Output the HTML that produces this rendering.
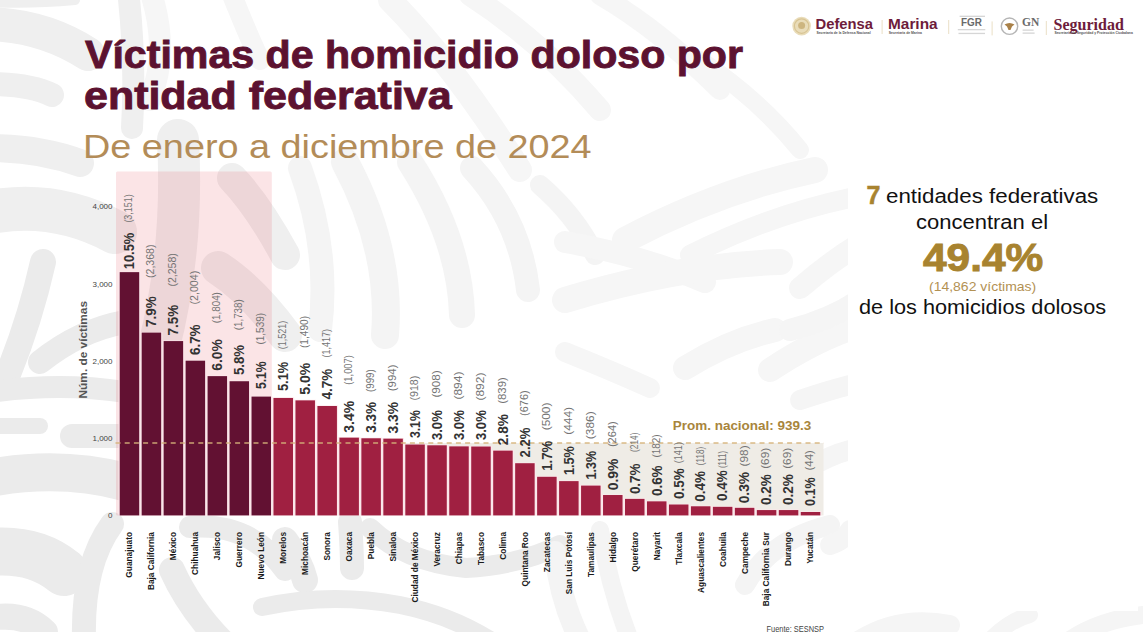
<!DOCTYPE html>
<html><head><meta charset="utf-8">
<style>
*{margin:0;padding:0;box-sizing:border-box}
html,body{width:1143px;height:632px;overflow:hidden;background:#fff}
body{position:relative;font-family:"Liberation Sans",sans-serif}
.abs{position:absolute;white-space:nowrap;line-height:1;transform-origin:0 0}
svg{position:absolute;left:0;top:0}
.pc{font:bold 15px "Liberation Sans",sans-serif;fill:#333}
.pa{font:10.5px "Liberation Sans",sans-serif;fill:#747474}
.xl{font:bold 8.3px "Liberation Sans",sans-serif;fill:#1a1a1a}
.yt{font:8px "Liberation Sans",sans-serif;fill:#444}
.yl{font:bold 11.5px "Liberation Sans",sans-serif;fill:#555}
.prom{font:bold 13px "Liberation Sans",sans-serif;fill:#a8853c}
.src{font:9px "Liberation Sans",sans-serif;fill:#444}
#t1,#t2{-webkit-text-stroke:0.9px #5c1230}
#r3{-webkit-text-stroke:0.9px #a8832f}
#r0{-webkit-text-stroke:0.5px #a8832f}
#t1{top:32px}
#t2{top:72px}
#sub{color:#b08d57;font-size:29px;left:85px;top:128px}
.rt{color:#111;font-size:19px}
.lg{font-family:'Liberation Serif',serif;font-weight:bold}
.lgs{font-size:3.4px;color:#555;font-weight:bold}
</style></head><body>
<svg id="bg" width="1143" height="632" viewBox="0 0 1143 632">
<g fill="none" stroke="#ebebeb" stroke-linecap="round">
 <!-- left margin top -->
 </g><g fill="none" stroke="#efefef" stroke-linecap="round">
 <path d="M-10 2 Q30 4 75 0" stroke-width="10"/>
 <path d="M-10 24 Q45 26 88 54" stroke-width="34"/>
 <path d="M-10 84 Q30 84 52 95" stroke-width="24"/>
 <path d="M128 -10 Q136 60 132 128" stroke-width="22"/>
 <path d="M-10 148 Q40 148 80 163" stroke-width="28"/>
 <path d="M-10 212 Q55 200 115 232" stroke-width="44"/>
 <path d="M178 140 Q184 250 158 350" stroke-width="42"/>
 <path d="M232 178 Q258 205 285 255" stroke-width="30"/>
 <path d="M218 268 Q252 290 285 335" stroke-width="34"/>
 </g><g fill="none" stroke="#ebebeb" stroke-linecap="round">
 <path d="M43 262 Q30 320 8 374" stroke-width="26"/>
 <path d="M40 362 Q80 330 125 322" stroke-width="24"/>
 <path d="M-10 392 Q60 382 125 392" stroke-width="22"/>
 <path d="M-10 426 L40 426" stroke-width="16"/>
 <path d="M72 436 L125 436" stroke-width="24"/>
 <path d="M-10 478 Q60 465 125 482" stroke-width="38"/>
 <!-- bottom left -->
 <path d="M-10 552 Q35 548 64 572" stroke-width="48"/>
 <path d="M-10 618 Q25 612 45 632" stroke-width="26"/>
 <path d="M112 524 Q82 565 84 640" stroke-width="24"/>
 <path d="M172 570 Q190 610 225 645" stroke-width="26"/>
 <path d="M190 527 Q250 522 285 570" stroke-width="22"/>
 <path d="M285 540 Q300 560 305 580" stroke-width="26"/>
 <path d="M350 522 Q352 550 352 568" stroke-width="24"/>
 <path d="M370 528 Q405 562 466 568 Q520 565 560 545" stroke-width="20"/>
 <path d="M262 607 Q330 592 400 605 Q450 615 490 640" stroke-width="18"/>
</g>
<g fill="none" stroke="#f4f4f4" stroke-linecap="round">
 <path d="M555 552 Q560 600 580 640" stroke-width="22"/>
 <path d="M600 530 Q610 590 630 640" stroke-width="18"/>
 <path d="M745 585 Q770 540 830 525" stroke-width="20"/>
 <!-- upper/middle faint bands -->
 <path d="M300 168 Q330 250 320 330" stroke-width="24"/>
 <path d="M345 162 Q392 250 385 335" stroke-width="28"/>
 <path d="M410 162 Q460 240 462 315" stroke-width="26"/>
 <path d="M472 168 Q520 220 528 290" stroke-width="24"/>
 <path d="M540 185 Q575 215 595 255" stroke-width="20"/>
 </g><g fill="none" stroke="#f6f6f6" stroke-linecap="round">
 <path d="M625 240 Q720 190 815 170" stroke-width="26"/>
 <path d="M565 242 Q640 255 705 282" stroke-width="22"/>
 <path d="M690 255 Q770 215 850 198" stroke-width="20"/>
 <path d="M565 300 Q680 265 780 262" stroke-width="26"/>
 <path d="M685 368 Q730 340 775 330" stroke-width="24"/>
 <path d="M800 288 Q830 262 858 245" stroke-width="22"/>
 <path d="M565 352 Q610 370 650 388" stroke-width="20"/>
 <path d="M770 370 Q815 340 858 326" stroke-width="24"/>
 <path d="M150 -10 Q170 50 150 100" stroke-width="22"/>
 <path d="M230 -10 Q250 40 260 60" stroke-width="20"/>
 <path d="M390 0 Q450 60 520 170" stroke-width="24"/>
 <path d="M470 -5 Q540 40 600 110" stroke-width="22"/>
 <path d="M600 -5 Q660 30 720 90" stroke-width="20"/>
 <path d="M700 60 Q760 100 800 150" stroke-width="18"/>
</g>
<g fill="none" stroke="#f5f5f5" stroke-linecap="round">
 <path d="M790 330 Q830 320 860 300" stroke-width="22"/>
 <path d="M800 400 Q830 390 850 385" stroke-width="20"/>
 <path d="M805 470 Q830 455 850 450" stroke-width="20"/>
 <path d="M830 545 Q845 540 850 530" stroke-width="20"/>
 <path d="M860 640 Q900 615 950 625" stroke-width="20"/>
 <path d="M990 640 Q1010 620 1030 615" stroke-width="16"/>
 <path d="M1070 640 Q1100 620 1143 615" stroke-width="18"/>
</g>
<rect x="848" y="60" width="290" height="551" fill="#fff"/>

</svg>
<svg width="1143" height="632" viewBox="0 0 1143 632">
<rect x="116" y="171.6" width="155.8" height="343.8" rx="1.5" fill="rgb(228,75,88)" fill-opacity="0.15"/>
<rect x="272" y="443" width="551.5" height="72.4" fill="#efece6"/>
<rect x="118.50" y="271.54" width="21.9" height="243.86" fill="#fce7eb"/>
<rect x="119.70" y="272.14" width="19.5" height="243.26" fill="#621132"/>
<rect x="140.47" y="331.99" width="21.9" height="183.41" fill="#fce7eb"/>
<rect x="141.67" y="332.59" width="19.5" height="182.81" fill="#621132"/>
<rect x="162.44" y="340.48" width="21.9" height="174.92" fill="#fce7eb"/>
<rect x="163.64" y="341.08" width="19.5" height="174.32" fill="#621132"/>
<rect x="184.41" y="360.09" width="21.9" height="155.31" fill="#fce7eb"/>
<rect x="185.61" y="360.69" width="19.5" height="154.71" fill="#621132"/>
<rect x="206.38" y="375.53" width="21.9" height="139.87" fill="#fce7eb"/>
<rect x="207.58" y="376.13" width="19.5" height="139.27" fill="#621132"/>
<rect x="228.35" y="380.63" width="21.9" height="134.77" fill="#fce7eb"/>
<rect x="229.55" y="381.23" width="19.5" height="134.17" fill="#621132"/>
<rect x="250.32" y="395.99" width="21.9" height="119.41" fill="#fce7eb"/>
<rect x="251.52" y="396.59" width="19.5" height="118.81" fill="#621132"/>
<rect x="272.29" y="397.38" width="21.9" height="118.02" fill="#fce7eb"/>
<rect x="273.49" y="397.98" width="19.5" height="117.42" fill="#a02041"/>
<rect x="294.26" y="399.77" width="21.9" height="115.63" fill="#fce7eb"/>
<rect x="295.46" y="400.37" width="19.5" height="115.03" fill="#a02041"/>
<rect x="316.23" y="405.41" width="21.9" height="109.99" fill="#fce7eb"/>
<rect x="317.43" y="406.01" width="19.5" height="109.39" fill="#a02041"/>
<rect x="338.20" y="437.06" width="21.9" height="78.34" fill="#fce7eb"/>
<rect x="339.40" y="437.66" width="19.5" height="77.74" fill="#a02041"/>
<rect x="360.17" y="437.68" width="21.9" height="77.72" fill="#fce7eb"/>
<rect x="361.37" y="438.28" width="19.5" height="77.12" fill="#a02041"/>
<rect x="382.14" y="438.06" width="21.9" height="77.34" fill="#fce7eb"/>
<rect x="383.34" y="438.66" width="19.5" height="76.74" fill="#a02041"/>
<rect x="404.11" y="443.93" width="21.9" height="71.47" fill="#fce7eb"/>
<rect x="405.31" y="444.53" width="19.5" height="70.87" fill="#a02041"/>
<rect x="426.08" y="444.70" width="21.9" height="70.70" fill="#fce7eb"/>
<rect x="427.28" y="445.30" width="19.5" height="70.10" fill="#a02041"/>
<rect x="448.05" y="445.78" width="21.9" height="69.62" fill="#fce7eb"/>
<rect x="449.25" y="446.38" width="19.5" height="69.02" fill="#a02041"/>
<rect x="470.02" y="445.94" width="21.9" height="69.46" fill="#fce7eb"/>
<rect x="471.22" y="446.54" width="19.5" height="68.86" fill="#a02041"/>
<rect x="491.99" y="450.03" width="21.9" height="65.37" fill="#fce7eb"/>
<rect x="493.19" y="450.63" width="19.5" height="64.77" fill="#a02041"/>
<rect x="513.96" y="462.61" width="21.9" height="52.79" fill="#fce7eb"/>
<rect x="515.16" y="463.21" width="19.5" height="52.19" fill="#a02041"/>
<rect x="535.93" y="476.20" width="21.9" height="39.20" fill="#fce7eb"/>
<rect x="537.13" y="476.80" width="19.5" height="38.60" fill="#a02041"/>
<rect x="557.90" y="480.52" width="21.9" height="34.88" fill="#fce7eb"/>
<rect x="559.10" y="481.12" width="19.5" height="34.28" fill="#a02041"/>
<rect x="579.87" y="485.00" width="21.9" height="30.40" fill="#fce7eb"/>
<rect x="581.07" y="485.60" width="19.5" height="29.80" fill="#a02041"/>
<rect x="601.84" y="494.42" width="21.9" height="20.98" fill="#fce7eb"/>
<rect x="603.04" y="495.02" width="19.5" height="20.38" fill="#a02041"/>
<rect x="623.81" y="498.28" width="21.9" height="17.12" fill="#fce7eb"/>
<rect x="625.01" y="498.88" width="19.5" height="16.52" fill="#a02041"/>
<rect x="645.78" y="500.75" width="21.9" height="14.65" fill="#fce7eb"/>
<rect x="646.98" y="501.35" width="19.5" height="14.05" fill="#a02041"/>
<rect x="667.75" y="503.91" width="21.9" height="11.49" fill="#fce7eb"/>
<rect x="668.95" y="504.51" width="19.5" height="10.89" fill="#a02041"/>
<rect x="689.72" y="505.69" width="21.9" height="9.71" fill="#fce7eb"/>
<rect x="690.92" y="506.29" width="19.5" height="9.11" fill="#a02041"/>
<rect x="711.69" y="506.23" width="21.9" height="9.17" fill="#fce7eb"/>
<rect x="712.89" y="506.83" width="19.5" height="8.57" fill="#a02041"/>
<rect x="733.66" y="507.23" width="21.9" height="8.17" fill="#fce7eb"/>
<rect x="734.86" y="507.83" width="19.5" height="7.57" fill="#a02041"/>
<rect x="755.63" y="509.47" width="21.9" height="5.93" fill="#fce7eb"/>
<rect x="756.83" y="510.07" width="19.5" height="5.33" fill="#a02041"/>
<rect x="777.60" y="509.47" width="21.9" height="5.93" fill="#fce7eb"/>
<rect x="778.80" y="510.07" width="19.5" height="5.33" fill="#a02041"/>
<rect x="799.57" y="511.40" width="21.9" height="4.00" fill="#fce7eb"/>
<rect x="800.77" y="512.00" width="19.5" height="3.40" fill="#a02041"/>
<line x1="115.5" y1="443" x2="824" y2="443" stroke="#d6b37a" stroke-opacity="0.9" stroke-width="1.5" stroke-dasharray="5 4.2"/>
<text transform="translate(134.25,251.00) rotate(-90)" text-anchor="middle" class="pc" textLength="36.6" lengthAdjust="spacingAndGlyphs">10.5%</text>
<text transform="translate(132.35,208.50) rotate(-90)" text-anchor="middle" class="pa" textLength="28.2" lengthAdjust="spacingAndGlyphs">(3,151)</text>
<text transform="translate(132.35,532) rotate(-90)" text-anchor="end" class="xl">Guanajuato</text>
<text transform="translate(156.22,311.60) rotate(-90)" text-anchor="middle" class="pc" textLength="30.6" lengthAdjust="spacingAndGlyphs">7.9%</text>
<text transform="translate(154.32,261.30) rotate(-90)" text-anchor="middle" class="pa" textLength="33.4" lengthAdjust="spacingAndGlyphs">(2,368)</text>
<text transform="translate(154.32,532) rotate(-90)" text-anchor="end" class="xl">Baja California</text>
<text transform="translate(178.19,320.15) rotate(-90)" text-anchor="middle" class="pc" textLength="30.7" lengthAdjust="spacingAndGlyphs">7.5%</text>
<text transform="translate(176.29,269.85) rotate(-90)" text-anchor="middle" class="pa" textLength="33.5" lengthAdjust="spacingAndGlyphs">(2,258)</text>
<text transform="translate(176.29,532) rotate(-90)" text-anchor="end" class="xl">México</text>
<text transform="translate(200.16,339.75) rotate(-90)" text-anchor="middle" class="pc" textLength="30.7" lengthAdjust="spacingAndGlyphs">6.7%</text>
<text transform="translate(198.26,287.65) rotate(-90)" text-anchor="middle" class="pa" textLength="33.9" lengthAdjust="spacingAndGlyphs">(2,004)</text>
<text transform="translate(198.26,532) rotate(-90)" text-anchor="end" class="xl">Chihuahua</text>
<text transform="translate(222.13,354.95) rotate(-90)" text-anchor="middle" class="pc" textLength="31.5" lengthAdjust="spacingAndGlyphs">6.0%</text>
<text transform="translate(220.23,307.65) rotate(-90)" text-anchor="middle" class="pa" textLength="31.1" lengthAdjust="spacingAndGlyphs">(1,804)</text>
<text transform="translate(220.23,532) rotate(-90)" text-anchor="end" class="xl">Jalisco</text>
<text transform="translate(244.10,360.00) rotate(-90)" text-anchor="middle" class="pc" textLength="30.2" lengthAdjust="spacingAndGlyphs">5.8%</text>
<text transform="translate(242.20,314.75) rotate(-90)" text-anchor="middle" class="pa" textLength="31.1" lengthAdjust="spacingAndGlyphs">(1,738)</text>
<text transform="translate(242.20,532) rotate(-90)" text-anchor="end" class="xl">Guerrero</text>
<text transform="translate(266.07,375.25) rotate(-90)" text-anchor="middle" class="pc" textLength="27.7" lengthAdjust="spacingAndGlyphs">5.1%</text>
<text transform="translate(264.17,328.75) rotate(-90)" text-anchor="middle" class="pa" textLength="31.7" lengthAdjust="spacingAndGlyphs">(1,539)</text>
<text transform="translate(264.17,532) rotate(-90)" text-anchor="end" class="xl">Nuevo León</text>
<text transform="translate(288.04,376.40) rotate(-90)" text-anchor="middle" class="pc" textLength="29.4" lengthAdjust="spacingAndGlyphs">5.1%</text>
<text transform="translate(286.14,334.95) rotate(-90)" text-anchor="middle" class="pa" textLength="28.5" lengthAdjust="spacingAndGlyphs">(1,521)</text>
<text transform="translate(286.14,532) rotate(-90)" text-anchor="end" class="xl">Morelos</text>
<text transform="translate(310.01,378.85) rotate(-90)" text-anchor="middle" class="pc" textLength="31.9" lengthAdjust="spacingAndGlyphs">5.0%</text>
<text transform="translate(308.11,332.00) rotate(-90)" text-anchor="middle" class="pa" textLength="32.0" lengthAdjust="spacingAndGlyphs">(1,490)</text>
<text transform="translate(308.11,532) rotate(-90)" text-anchor="end" class="xl">Michoacán</text>
<text transform="translate(331.98,384.20) rotate(-90)" text-anchor="middle" class="pc" textLength="30.6" lengthAdjust="spacingAndGlyphs">4.7%</text>
<text transform="translate(330.08,343.30) rotate(-90)" text-anchor="middle" class="pa" textLength="28.6" lengthAdjust="spacingAndGlyphs">(1,417)</text>
<text transform="translate(330.08,532) rotate(-90)" text-anchor="end" class="xl">Sonora</text>
<text transform="translate(353.95,416.80) rotate(-90)" text-anchor="middle" class="pc" textLength="31.8" lengthAdjust="spacingAndGlyphs">3.4%</text>
<text transform="translate(352.05,369.95) rotate(-90)" text-anchor="middle" class="pa" textLength="29.7" lengthAdjust="spacingAndGlyphs">(1,007)</text>
<text transform="translate(352.05,532) rotate(-90)" text-anchor="end" class="xl">Oaxaca</text>
<text transform="translate(375.92,417.30) rotate(-90)" text-anchor="middle" class="pc" textLength="30.8" lengthAdjust="spacingAndGlyphs">3.3%</text>
<text transform="translate(374.02,380.65) rotate(-90)" text-anchor="middle" class="pa" textLength="22.5" lengthAdjust="spacingAndGlyphs">(999)</text>
<text transform="translate(374.02,532) rotate(-90)" text-anchor="end" class="xl">Puebla</text>
<text transform="translate(397.89,417.65) rotate(-90)" text-anchor="middle" class="pc" textLength="31.5" lengthAdjust="spacingAndGlyphs">3.3%</text>
<text transform="translate(395.99,377.85) rotate(-90)" text-anchor="middle" class="pa" textLength="26.9" lengthAdjust="spacingAndGlyphs">(994)</text>
<text transform="translate(395.99,532) rotate(-90)" text-anchor="end" class="xl">Sinaloa</text>
<text transform="translate(419.86,424.15) rotate(-90)" text-anchor="middle" class="pc" textLength="27.9" lengthAdjust="spacingAndGlyphs">3.1%</text>
<text transform="translate(417.96,388.15) rotate(-90)" text-anchor="middle" class="pa" textLength="24.9" lengthAdjust="spacingAndGlyphs">(918)</text>
<text transform="translate(417.96,532) rotate(-90)" text-anchor="end" class="xl">Ciudad de México</text>
<text transform="translate(441.83,425.15) rotate(-90)" text-anchor="middle" class="pc" textLength="29.9" lengthAdjust="spacingAndGlyphs">3.0%</text>
<text transform="translate(439.93,384.00) rotate(-90)" text-anchor="middle" class="pa" textLength="27.2" lengthAdjust="spacingAndGlyphs">(908)</text>
<text transform="translate(439.93,532) rotate(-90)" text-anchor="end" class="xl">Veracruz</text>
<text transform="translate(463.80,425.15) rotate(-90)" text-anchor="middle" class="pc" textLength="29.9" lengthAdjust="spacingAndGlyphs">3.0%</text>
<text transform="translate(461.90,385.60) rotate(-90)" text-anchor="middle" class="pa" textLength="28.0" lengthAdjust="spacingAndGlyphs">(894)</text>
<text transform="translate(461.90,532) rotate(-90)" text-anchor="end" class="xl">Chiapas</text>
<text transform="translate(485.77,425.15) rotate(-90)" text-anchor="middle" class="pc" textLength="29.9" lengthAdjust="spacingAndGlyphs">3.0%</text>
<text transform="translate(483.87,386.60) rotate(-90)" text-anchor="middle" class="pa" textLength="28.0" lengthAdjust="spacingAndGlyphs">(892)</text>
<text transform="translate(483.87,532) rotate(-90)" text-anchor="end" class="xl">Tabasco</text>
<text transform="translate(507.74,429.70) rotate(-90)" text-anchor="middle" class="pc" textLength="31.0" lengthAdjust="spacingAndGlyphs">2.8%</text>
<text transform="translate(505.84,390.45) rotate(-90)" text-anchor="middle" class="pa" textLength="26.7" lengthAdjust="spacingAndGlyphs">(839)</text>
<text transform="translate(505.84,532) rotate(-90)" text-anchor="end" class="xl">Colima</text>
<text transform="translate(529.71,442.45) rotate(-90)" text-anchor="middle" class="pc" textLength="29.9" lengthAdjust="spacingAndGlyphs">2.2%</text>
<text transform="translate(527.81,403.15) rotate(-90)" text-anchor="middle" class="pa" textLength="25.5" lengthAdjust="spacingAndGlyphs">(676)</text>
<text transform="translate(527.81,532) rotate(-90)" text-anchor="end" class="xl">Quintana Roo</text>
<text transform="translate(551.68,455.75) rotate(-90)" text-anchor="middle" class="pc" textLength="29.9" lengthAdjust="spacingAndGlyphs">1.7%</text>
<text transform="translate(549.78,416.45) rotate(-90)" text-anchor="middle" class="pa" textLength="27.7" lengthAdjust="spacingAndGlyphs">(500)</text>
<text transform="translate(549.78,532) rotate(-90)" text-anchor="end" class="xl">Zacatecas</text>
<text transform="translate(573.65,460.70) rotate(-90)" text-anchor="middle" class="pc" textLength="28.8" lengthAdjust="spacingAndGlyphs">1.5%</text>
<text transform="translate(571.75,420.90) rotate(-90)" text-anchor="middle" class="pa" textLength="27.8" lengthAdjust="spacingAndGlyphs">(444)</text>
<text transform="translate(571.75,532) rotate(-90)" text-anchor="end" class="xl">San Luis Potosí</text>
<text transform="translate(595.62,465.15) rotate(-90)" text-anchor="middle" class="pc" textLength="28.7" lengthAdjust="spacingAndGlyphs">1.3%</text>
<text transform="translate(593.72,425.30) rotate(-90)" text-anchor="middle" class="pa" textLength="27.8" lengthAdjust="spacingAndGlyphs">(386)</text>
<text transform="translate(593.72,532) rotate(-90)" text-anchor="end" class="xl">Tamaulipas</text>
<text transform="translate(617.59,474.50) rotate(-90)" text-anchor="middle" class="pc" textLength="31.6" lengthAdjust="spacingAndGlyphs">0.9%</text>
<text transform="translate(615.69,434.15) rotate(-90)" text-anchor="middle" class="pa" textLength="25.9" lengthAdjust="spacingAndGlyphs">(264)</text>
<text transform="translate(615.69,532) rotate(-90)" text-anchor="end" class="xl">Hidalgo</text>
<text transform="translate(639.56,478.80) rotate(-90)" text-anchor="middle" class="pc" textLength="30.6" lengthAdjust="spacingAndGlyphs">0.7%</text>
<text transform="translate(637.66,442.25) rotate(-90)" text-anchor="middle" class="pa" textLength="19.3" lengthAdjust="spacingAndGlyphs">(214)</text>
<text transform="translate(637.66,532) rotate(-90)" text-anchor="end" class="xl">Querétaro</text>
<text transform="translate(661.53,480.75) rotate(-90)" text-anchor="middle" class="pc" textLength="30.7" lengthAdjust="spacingAndGlyphs">0.6%</text>
<text transform="translate(659.63,446.05) rotate(-90)" text-anchor="middle" class="pa" textLength="23.1" lengthAdjust="spacingAndGlyphs">(182)</text>
<text transform="translate(659.63,532) rotate(-90)" text-anchor="end" class="xl">Nayarit</text>
<text transform="translate(683.50,483.55) rotate(-90)" text-anchor="middle" class="pc" textLength="30.7" lengthAdjust="spacingAndGlyphs">0.5%</text>
<text transform="translate(681.60,452.70) rotate(-90)" text-anchor="middle" class="pa" textLength="21.2" lengthAdjust="spacingAndGlyphs">(141)</text>
<text transform="translate(681.60,532) rotate(-90)" text-anchor="end" class="xl">Tlaxcala</text>
<text transform="translate(705.47,486.35) rotate(-90)" text-anchor="middle" class="pc" textLength="30.7" lengthAdjust="spacingAndGlyphs">0.4%</text>
<text transform="translate(703.57,456.05) rotate(-90)" text-anchor="middle" class="pa" textLength="18.3" lengthAdjust="spacingAndGlyphs">(118)</text>
<text transform="translate(703.57,532) rotate(-90)" text-anchor="end" class="xl">Aguascalientes</text>
<text transform="translate(727.44,485.60) rotate(-90)" text-anchor="middle" class="pc" textLength="30.6" lengthAdjust="spacingAndGlyphs">0.4%</text>
<text transform="translate(725.54,459.50) rotate(-90)" text-anchor="middle" class="pa" textLength="17.0" lengthAdjust="spacingAndGlyphs">(111)</text>
<text transform="translate(725.54,532) rotate(-90)" text-anchor="end" class="xl">Coahuila</text>
<text transform="translate(749.41,487.60) rotate(-90)" text-anchor="middle" class="pc" textLength="31.4" lengthAdjust="spacingAndGlyphs">0.3%</text>
<text transform="translate(747.51,455.90) rotate(-90)" text-anchor="middle" class="pa" textLength="21.0" lengthAdjust="spacingAndGlyphs">(98)</text>
<text transform="translate(747.51,532) rotate(-90)" text-anchor="end" class="xl">Campeche</text>
<text transform="translate(771.38,489.55) rotate(-90)" text-anchor="middle" class="pc" textLength="30.7" lengthAdjust="spacingAndGlyphs">0.2%</text>
<text transform="translate(769.48,458.35) rotate(-90)" text-anchor="middle" class="pa" textLength="20.9" lengthAdjust="spacingAndGlyphs">(69)</text>
<text transform="translate(769.48,532) rotate(-90)" text-anchor="end" class="xl">Baja California Sur</text>
<text transform="translate(793.35,489.65) rotate(-90)" text-anchor="middle" class="pc" textLength="30.9" lengthAdjust="spacingAndGlyphs">0.2%</text>
<text transform="translate(791.45,458.35) rotate(-90)" text-anchor="middle" class="pa" textLength="20.9" lengthAdjust="spacingAndGlyphs">(69)</text>
<text transform="translate(791.45,532) rotate(-90)" text-anchor="end" class="xl">Durango</text>
<text transform="translate(815.32,491.60) rotate(-90)" text-anchor="middle" class="pc" textLength="28.6" lengthAdjust="spacingAndGlyphs">0.1%</text>
<text transform="translate(813.42,460.30) rotate(-90)" text-anchor="middle" class="pa" textLength="20.4" lengthAdjust="spacingAndGlyphs">(44)</text>
<text transform="translate(813.42,532) rotate(-90)" text-anchor="end" class="xl">Yucatán</text>
<text x="112.5" y="518.20" text-anchor="end" class="yt">0</text>
<text x="112.5" y="441.00" text-anchor="end" class="yt">1,000</text>
<text x="112.5" y="363.80" text-anchor="end" class="yt">2,000</text>
<text x="112.5" y="286.60" text-anchor="end" class="yt">3,000</text>
<text x="112.5" y="209.40" text-anchor="end" class="yt">4,000</text>
<text transform="translate(86.5,349.7) rotate(-90)" text-anchor="middle" class="yl" textLength="97.5" lengthAdjust="spacingAndGlyphs">Núm. de víctimas</text>
<text x="811.2" y="429.9" text-anchor="end" class="prom" textLength="138.4" lengthAdjust="spacingAndGlyphs">Prom. nacional: 939.3</text>
<text x="824" y="632.3" text-anchor="end" class="src" textLength="57.5" lengthAdjust="spacingAndGlyphs">Fuente: SESNSP</text>
</svg>
<div class="abs" id="t1" style="left:85.3px;top:34.69px;font-size:39px;font-weight:bold;color:#5c1230;transform:scaleX(1.0543);">Víctimas de homicidio doloso por</div>
<div class="abs" id="t2" style="left:84.1px;top:75.59px;font-size:39px;font-weight:bold;color:#5c1230;transform:scaleX(1.1015);">entidad federativa</div>
<div class="abs" id="sub" style="left:82.7px;top:128.92px;font-size:34px;font-weight:normal;color:#b38c58;transform:scaleX(1.112);">De enero a diciembre de 2024</div>
<div class="abs" id="r0" style="left:866.5px;top:182.54px;font-size:25px;font-weight:bold;color:#a8832f;transform:scaleX(1.0);">7</div>
<div class="abs" id="r1" style="left:885.5px;top:187.19px;font-size:19.5px;font-weight:normal;color:#111;transform:scaleX(1.145);">entidades federativas</div>
<div class="abs" id="r2" style="left:915.5px;top:213.19px;font-size:19.5px;font-weight:normal;color:#111;transform:scaleX(1.1276);">concentran el</div>
<div class="abs" id="r3" style="left:923px;top:238.63px;font-size:38px;font-weight:bold;color:#a8832f;transform:scaleX(1.116);">49.4%</div>
<div class="abs" id="r4" style="left:928.5px;top:281.15px;font-size:12.7px;font-weight:normal;color:#b39153;transform:scaleX(1.102);">(14,862 víctimas)</div>
<div class="abs" id="r5" style="left:858.9px;top:297.59px;font-size:19.5px;font-weight:normal;color:#111;transform:scaleX(1.112);">de los homicidios dolosos</div>

<div id="logos">
<svg width="1143" height="50" viewBox="0 0 1143 50" style="position:absolute;left:0;top:0">
 <circle cx="801.6" cy="26.1" r="9.3" fill="#e9dcb9"/>
 <circle cx="801.6" cy="26.1" r="7.2" fill="none" stroke="#d8c493" stroke-width="1.2"/>
 <circle cx="801.6" cy="25.5" r="3.5" fill="#cdb57f"/>
 <rect x="881.6" y="20" width="1" height="14" fill="#eadfc6"/>
 <rect x="948.2" y="20" width="1" height="14" fill="#eadfc6"/>
 <rect x="991.6" y="21.4" width="1" height="14" fill="#eadfc6"/>
 <rect x="1045.8" y="21" width="1" height="14" fill="#eadfc6"/>
 <rect x="959.6" y="15.8" width="25.4" height="0.8" fill="#bbb"/>
 <rect x="957.8" y="29" width="27.5" height="1.3" fill="#d6d6d6"/>
 <rect x="958.5" y="32.8" width="26.5" height="1.3" fill="#d6d6d6"/>
 <circle cx="1009.5" cy="26.2" r="8.2" fill="#fff" stroke="#b5b5b5" stroke-width="1.4"/>
 <path d="M1004.5 24.5 Q1009.5 21.5 1014.5 24.5 L1012 26.5 L1010.5 30 L1008.5 30 L1007 26.5 Z" fill="#a98149"/>
 <rect x="1022.6" y="29.6" width="11" height="1" fill="#c8c8c8"/>
 <rect x="1022.6" y="32.6" width="12" height="1" fill="#c8c8c8"/>
</svg>
<div class="abs" style="left:815.5px;top:16.8px;font-size:14.8px;color:#6e1c3b;font-weight:bold">Defensa</div>
<div class="abs lgs" style="left:816.4px;top:32.4px;width:56px">Secretaría de la Defensa Nacional</div>
<div class="abs" style="left:887.8px;top:16.8px;font-size:14.8px;color:#6e1c3b;font-weight:bold;transform:scaleX(1.04)">Marina</div>
<div class="abs lgs" style="left:888.8px;top:32.4px">Secretaría de Marina</div>
<div class="abs" style="left:961.2px;top:17px;font-size:11px;color:#6a6a6a;font-weight:bold;transform:scaleX(0.9)">FGR</div>
<div class="abs" style="left:1022px;top:16.8px;font-size:11.5px;color:#6a6a6a;font-weight:bold;font-family:'Liberation Serif',serif">GN</div>
<div class="abs lg" style="left:1053.6px;top:17.4px;font-size:16px;color:#6e1c3b">Seguridad</div>
<div class="abs lgs" style="left:1054.4px;top:32.4px">Secretaría de Seguridad y Protección Ciudadana</div>
</div>
</body></html>
